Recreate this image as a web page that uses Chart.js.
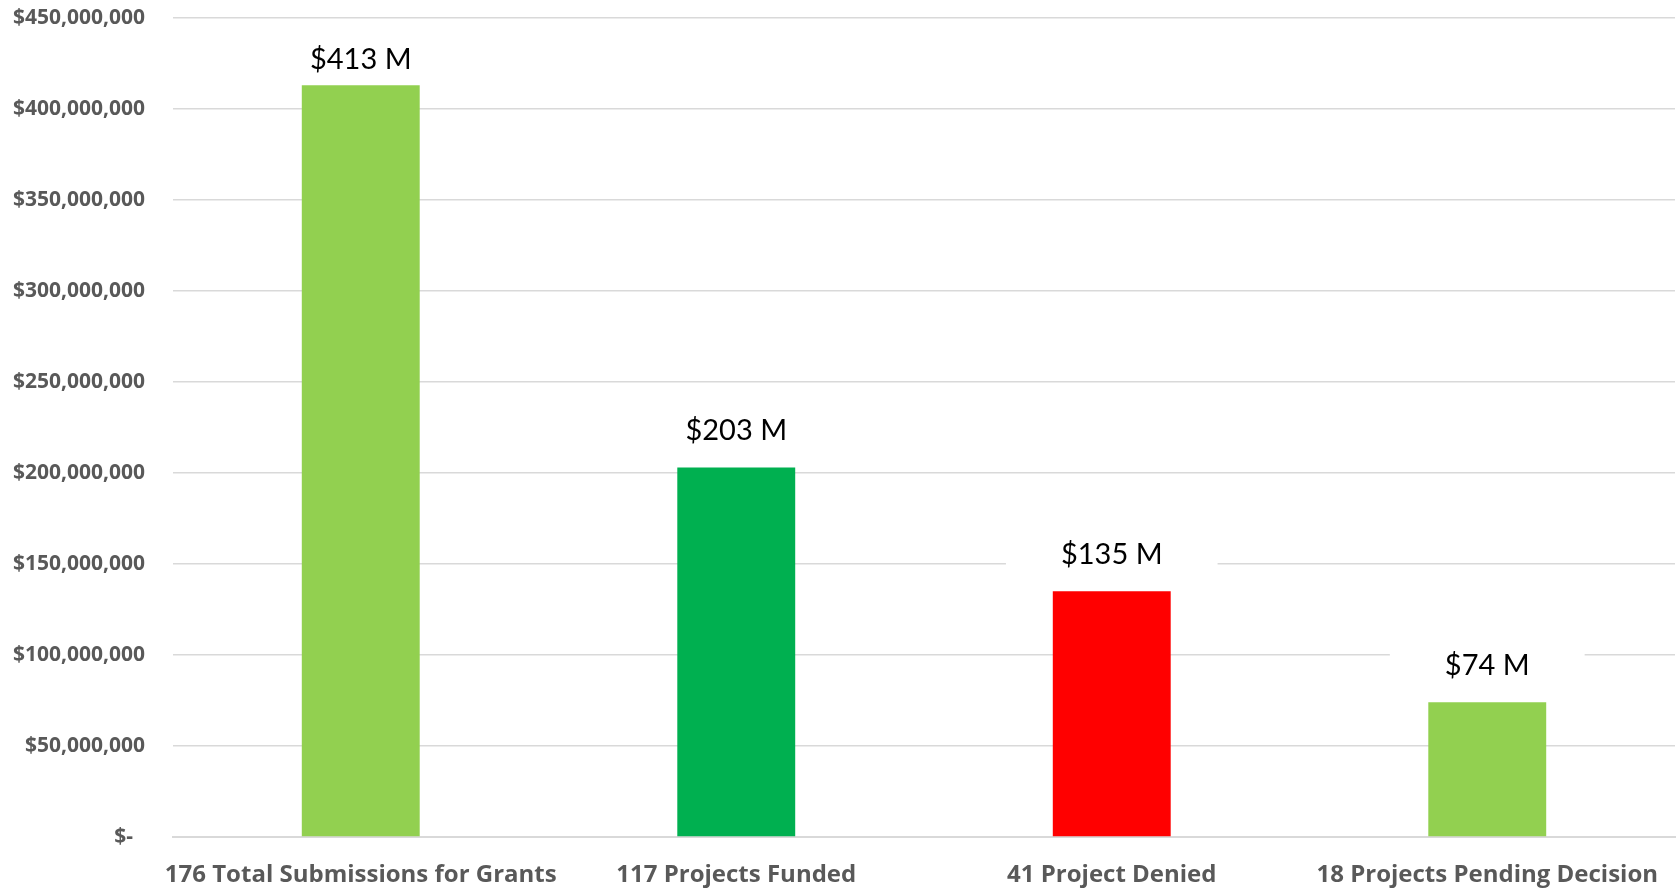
<!DOCTYPE html>
<html>
<head>
<meta charset="utf-8">
<script src="https://cdn.jsdelivr.net/npm/chart.js@4.4.1/dist/chart.umd.min.js"></script>
<style>
  html, body { margin: 0; padding: 0; background: #fff; }
  #wrap { width: 1679px; height: 889px; }
</style>
</head>
<body>
<div id="wrap"><canvas id="myChartGrants"></canvas></div>
<script>
const categories = ['176 Total Submissions for Grants', '117 Projects Funded', '41 Project Denied', '18 Projects Pending Decision'];
const amounts = [413000000, 203000000, 135000000, 74000000];
const amountLabels = ['$413 M', '$203 M', '$135 M', '$74 M'];
const barColors = ['#92D050', '#00B050', '#FF0000', '#92D050'];

const labelFont = "Lato, 'Open Sans', sans-serif";
const axisFont = "'Open Sans', Lato, sans-serif";

// labels above bars with a white box behind them (like the excel ones)
const valueLabels = {
  id: 'valueLabels',
  afterDatasetsDraw(chart) {
    const c = chart.ctx;
    const meta = chart.getDatasetMeta(0);
    c.save();
    c.font = '29px ' + labelFont;
    c.textAlign = 'center';
    c.textBaseline = 'middle';
    meta.data.forEach((bar, i) => {
      const txt = amountLabels[i];
      // top label sits a bit closer to its bar
      const y = bar.y - Math.min(37, bar.y - chart.chartArea.top - 42);
      const w = c.measureText(txt).width + 110;
      c.fillStyle = '#fff';
      c.fillRect(bar.x - w / 2, y - 23, w, 44);
      c.fillStyle = '#000';
      c.fillText(txt, bar.x, y);
    });
    c.restore();
  }
};

const ctx = document.getElementById('myChartGrants');

new Chart(ctx, {
  type: 'bar',
  data: {
    labels: categories,
    datasets: [
      {
        label: 'Amount',
        data: amounts,
        backgroundColor: barColors,
        borderWidth: 0,
        barPercentage: 0.314,
        categoryPercentage: 1
      }
    ]
  },
  options: {
    responsive: true,
    maintainAspectRatio: false,
    animation: false,
    layout: {
      padding: { top: 18, right: 4, left: 0, bottom: 0 }
    },
    plugins: {
      legend: { display: false },
      tooltip: { enabled: false }
    },
    scales: {
      x: {
        grid: { display: false, drawTicks: false },
        border: { display: true, color: '#D9D9D9', width: 2 },
        ticks: {
          color: '#595959',
          padding: 24,
          maxRotation: 0,
          autoSkip: false,
          font: { family: axisFont, size: 24, weight: 'bold' }
        },
        afterFit(s) { s.height = 52; s.paddingLeft = 0; s.paddingRight = 0; }
      },
      y: {
        min: 0,
        max: 450000000,
        grid: { color: '#D9D9D9', lineWidth: 1.5, drawTicks: false },
        border: { display: false },
        ticks: {
          stepSize: 50000000,
          color: '#595959',
          padding: 28,
          font: { family: axisFont, size: 21, weight: 'bold' },
          callback: (v) => v === 0 ? '$-\u2007' : '$' + v.toLocaleString('en-US')
        },
        afterFit(s) { s.width = 173; s.paddingTop = 0; s.paddingBottom = 0; }
      }
    }
  },
  plugins: [valueLabels]
});
</script>
</body>
</html>
